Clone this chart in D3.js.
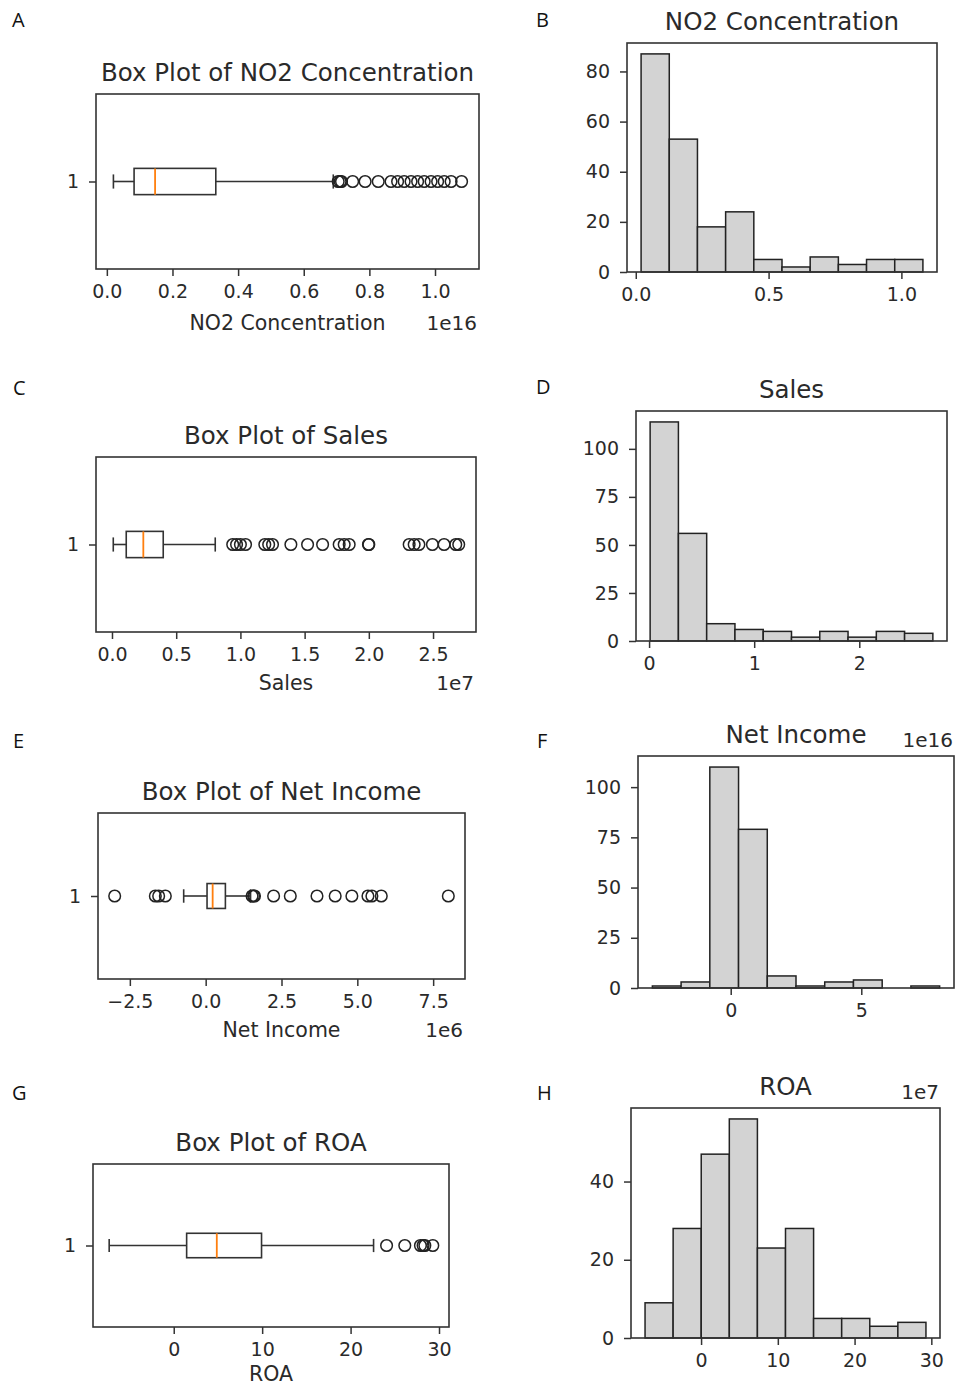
<!DOCTYPE html>
<head>
<meta charset="utf-8">
<title>Box plots and histograms</title>
<script src="https://d3js.org/d3.v7.min.js"></script>
<style>
  body { margin: 0; background: #fff; overflow: hidden; }
  svg { font-family: "DejaVu Sans", sans-serif; display: block; }
  .frame { fill: none; stroke: #333; stroke-width: 1.6px; }
  .tick text { fill: #2a2a2a; font-family: "DejaVu Sans", sans-serif; }
  .tick line { stroke: #333; stroke-width: 1.5px; }
  .title { font-size: 24.5px; fill: #2a2a2a; text-anchor: middle; }
  .xlabel { font-size: 20.5px; fill: #2a2a2a; text-anchor: middle; }
  .offset { font-size: 20px; fill: #2a2a2a; text-anchor: end; }
  .letter { font-family: "Open Sans", sans-serif; font-size: 20px; fill: #111; }
  .bar { fill: #d3d3d3; stroke: #222; stroke-width: 1.5px; }
  .box, .whisker, .cap { fill: none; stroke: #333; stroke-width: 1.6px; }
  .median { stroke: #ff7f0e; stroke-width: 1.8px; }
  .flier { fill: none; stroke: #222; stroke-width: 1.5px; }
</style>
</head>
<body>
<script>
// box stats: [whisker low, q1, median, q3, whisker high]
var no2Stats = [0.02, 0.083, 0.147, 0.332, 0.69];
var no2Fliers = [0.705, 0.711, 0.715, 0.749, 0.787, 0.827, 0.866, 0.886, 0.906, 0.927, 0.947, 0.967, 0.988, 1.008, 1.028, 1.049, 1.081];
var no2Counts = [87, 53, 18, 24, 5, 2, 6, 3, 5, 5];
var no2BoxTicks = [0, 0.2, 0.4, 0.6, 0.8, 1.0];
var no2HistTicks = [0, 0.5, 1.0];
var no2HistY = [0, 20, 40, 60, 80];

var salesStats = [0.01, 0.111, 0.244, 0.399, 0.804];
var salesFliers = [0.94, 0.97, 1.0, 1.04, 1.19, 1.22, 1.25, 1.393, 1.523, 1.64, 1.769, 1.808, 1.847, 1.997, 2.0, 2.314, 2.353, 2.39, 2.495, 2.586, 2.677, 2.70];
var salesCounts = [114, 56, 9, 6, 5, 2, 5, 2, 5, 4];
var salesBoxTicks = [0, 0.5, 1.0, 1.5, 2.0, 2.5];
var salesHistTicks = [0, 1, 2];
var salesHistY = [0, 25, 50, 75, 100];

var incomeStats = [-0.725, 0.045, 0.23, 0.65, 1.48];
var incomeFliers = [-3.0, -1.66, -1.55, -1.33, 1.53, 1.58, 1.61, 2.24, 2.79, 3.67, 4.27, 4.82, 5.35, 5.48, 5.79, 8.0];
var incomeCounts = [1, 3, 110, 79, 6, 1, 3, 4, 0, 1];
var incomeBoxTicks = [-2.5, 0, 2.5, 5.0, 7.5];
var incomeHistTicks = [0, 5];
var incomeHistY = [0, 25, 50, 75, 100];

var roaStats = [-7.3, 1.46, 4.87, 9.93, 22.6];
var roaFliers = [24.07, 26.13, 27.9, 28.2, 28.4, 29.3];
var roaCounts = [9, 28, 47, 56, 23, 28, 5, 5, 3, 4];
var roaBoxTicks = [0, 10, 20, 30];
var roaHistTicks = [0, 10, 20, 30];
var roaHistY = [0, 20, 40];

var svg = d3.select("body").append("svg")
    .attr("width", 955)
    .attr("height", 1387);

function padDomain(lo, hi) {
  var p = (hi - lo) * 0.05;
  return [lo - p, hi + p];
}

function styleAxis(g, size) {
  g.select(".domain").remove();
  g.selectAll(".tick text").style("font-size", size + "px");
  g.attr("font-family", null).attr("font-size", null);
}

function boxPanel(o) {
  var s = o.stats;
  var lo = d3.min([s[0]].concat(o.fliers)), hi = d3.max([s[4]].concat(o.fliers));
  var x = d3.scaleLinear().domain(padDomain(lo, hi)).range([o.l, o.r]);
  var y = d3.scaleLinear().domain([0.5, 1.5]).range([o.b, o.t]);
  var g = svg.append("g");

  g.append("g").attr("transform", "translate(0," + o.b + ")")
    .call(d3.axisBottom(x).tickValues(o.ticks).tickFormat(d3.format(o.fmt)).tickSize(7).tickPadding(9))
    .call(styleAxis, 19);
  g.append("g").attr("transform", "translate(" + o.l + ",0)")
    .call(d3.axisLeft(y).tickValues([1]).tickFormat(d3.format("d")).tickSize(7).tickPadding(10))
    .call(styleAxis, 19);

  var w = 0.075;
  g.append("line").attr("class", "whisker")
    .attr("x1", x(s[0])).attr("x2", x(s[1])).attr("y1", y(1)).attr("y2", y(1));
  g.append("line").attr("class", "whisker")
    .attr("x1", x(s[3])).attr("x2", x(s[4])).attr("y1", y(1)).attr("y2", y(1));
  [s[0], s[4]].forEach(function(v) {
    g.append("line").attr("class", "cap")
      .attr("x1", x(v)).attr("x2", x(v)).attr("y1", y(1 - w / 2 - 0.003)).attr("y2", y(1 + w / 2 + 0.003));
  });
  g.append("rect").attr("class", "box")
    .attr("x", x(s[1])).attr("y", y(1 + w))
    .attr("width", x(s[3]) - x(s[1])).attr("height", y(1 - w) - y(1 + w));
  g.append("line").attr("class", "median")
    .attr("x1", x(s[2])).attr("x2", x(s[2])).attr("y1", y(1 + w)).attr("y2", y(1 - w));
  g.selectAll(".flier").data(o.fliers).enter().append("circle")
    .attr("class", "flier")
    .attr("cx", function(d) { return x(d); })
    .attr("cy", y(1))
    .attr("r", 5.8);

  g.append("rect").attr("class", "frame")
    .attr("x", o.l).attr("y", o.t).attr("width", o.r - o.l).attr("height", o.b - o.t);

  g.append("text").attr("class", "title").attr("x", (o.l + o.r) / 2).attr("y", o.t - 13).text(o.title);
  g.append("text").attr("class", "xlabel").attr("x", (o.l + o.r) / 2).attr("y", o.b + o.labelDy).text(o.xlabel);
  if (o.offset) g.append("text").attr("class", "offset").attr("x", o.r - 2).attr("y", o.b + o.labelDy).text(o.offset);
}

function histPanel(o) {
  var n = o.counts.length;
  var step = (o.range[1] - o.range[0]) / n;
  var bins = o.counts.map(function(c, i) {
    return { x0: o.range[0] + i * step, x1: o.range[0] + (i + 1) * step, c: c };
  });
  var x = d3.scaleLinear().domain(padDomain(o.range[0], o.range[1])).range([o.l, o.r]);
  var y = d3.scaleLinear().domain([0, d3.max(o.counts) * 1.05]).range([o.b, o.t]);
  var g = svg.append("g");

  g.selectAll(".bar").data(bins).enter().append("rect")
    .attr("class", "bar")
    .attr("x", function(d) { return x(d.x0); })
    .attr("width", function(d) { return x(d.x1) - x(d.x0); })
    .attr("y", function(d) { return y(d.c); })
    .attr("height", function(d) { return y(0) - y(d.c); });

  g.append("g").attr("transform", "translate(0," + o.b + ")")
    .call(d3.axisBottom(x).tickValues(o.ticks).tickFormat(d3.format(o.fmt)).tickSize(7).tickPadding(9))
    .call(styleAxis, 19);
  g.append("g").attr("transform", "translate(" + o.l + ",0)")
    .call(d3.axisLeft(y).tickValues(o.yticks).tickFormat(d3.format("d")).tickSize(7).tickPadding(10))
    .call(styleAxis, 19);

  g.append("rect").attr("class", "frame")
    .attr("x", o.l).attr("y", o.t).attr("width", o.r - o.l).attr("height", o.b - o.t);
  g.append("text").attr("class", "title").attr("x", (o.l + o.r) / 2).attr("y", o.t - 13).text(o.title);
  if (o.offset) g.append("text").attr("class", "offset").attr("x", o.r - 1).attr("y", o.t - 9).text(o.offset);
}

boxPanel({l: 96, r: 479, t: 94, b: 269, stats: no2Stats, fliers: no2Fliers, ticks: no2BoxTicks, fmt: ".1f",
  title: "Box Plot of NO2 Concentration", xlabel: "NO2 Concentration", offset: "1e16", labelDy: 61});
histPanel({l: 627, r: 937, t: 43, b: 272, counts: no2Counts, range: [0.02, 1.081], ticks: no2HistTicks, fmt: ".1f",
  yticks: no2HistY, title: "NO2 Concentration"});

boxPanel({l: 96, r: 476, t: 457, b: 632, stats: salesStats, fliers: salesFliers, ticks: salesBoxTicks, fmt: ".1f",
  title: "Box Plot of Sales", xlabel: "Sales", offset: "1e7", labelDy: 58});
histPanel({l: 636, r: 947, t: 411, b: 641, counts: salesCounts, range: [0.01, 2.70], ticks: salesHistTicks, fmt: "d",
  yticks: salesHistY, title: "Sales"});

boxPanel({l: 98, r: 465, t: 813, b: 979, stats: incomeStats, fliers: incomeFliers, ticks: incomeBoxTicks, fmt: ".1f",
  title: "Box Plot of Net Income", xlabel: "Net Income", offset: "1e6", labelDy: 58});
histPanel({l: 638, r: 954, t: 756, b: 988, counts: incomeCounts, range: [-3.0, 8.0], ticks: incomeHistTicks, fmt: "d",
  yticks: incomeHistY, title: "Net Income", offset: "1e16"});

boxPanel({l: 93, r: 449, t: 1164, b: 1327, stats: roaStats, fliers: roaFliers, ticks: roaBoxTicks, fmt: "d",
  title: "Box Plot of ROA", xlabel: "ROA", labelDy: 54});
histPanel({l: 631, r: 940, t: 1108, b: 1338, counts: roaCounts, range: [-7.3, 29.3], ticks: roaHistTicks, fmt: "d",
  yticks: roaHistY, title: "ROA", offset: "1e7"});

// panel letters
var letters = [["A", 12, 27], ["B", 536, 27], ["C", 13, 395], ["D", 536, 394],
               ["E", 13, 748], ["F", 537, 748], ["G", 12, 1100], ["H", 537, 1100]];
svg.selectAll(".letter").data(letters).enter().append("text")
  .attr("class", "letter")
  .attr("x", function(d) { return d[1]; })
  .attr("y", function(d) { return d[2]; })
  .text(function(d) { return d[0]; });
</script>
</body>
